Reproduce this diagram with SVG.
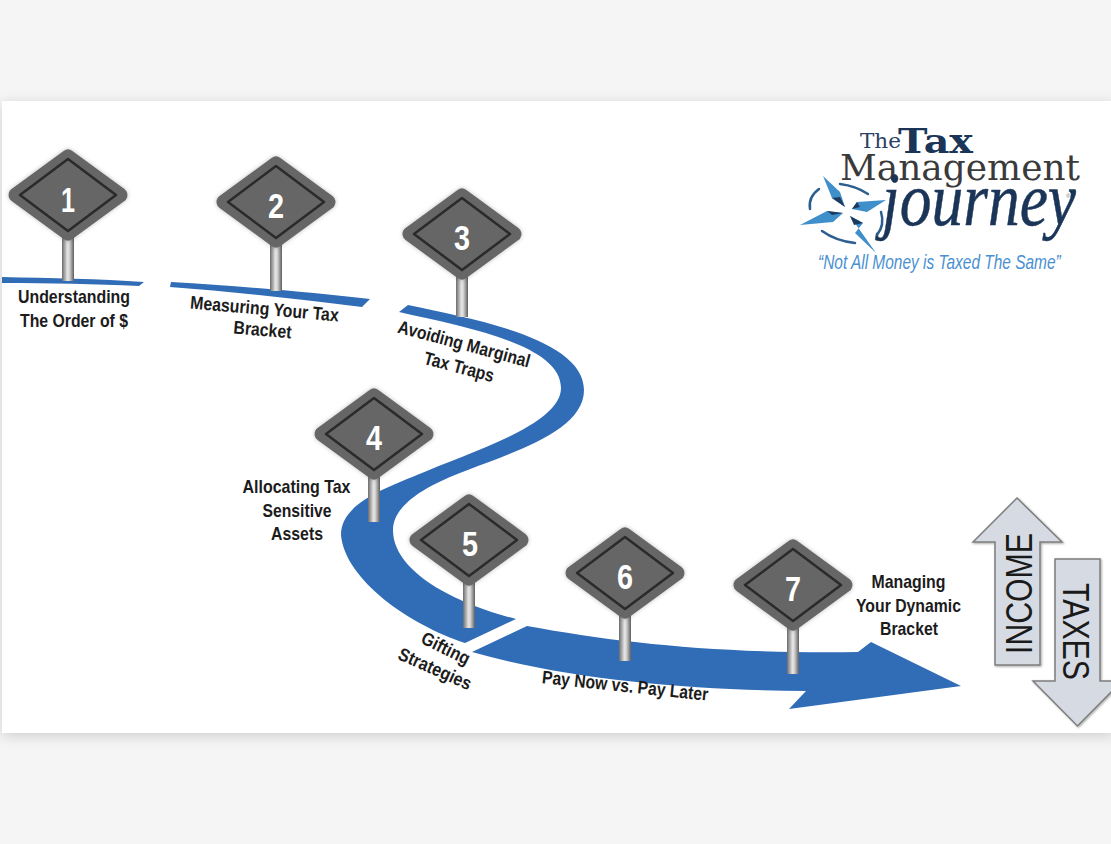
<svg xmlns="http://www.w3.org/2000/svg" width="1111" height="844" viewBox="0 0 1111 844">
<style>
.lb{font-family:"Liberation Sans",Arial,sans-serif;font-weight:700;font-size:18.500px;fill:#1c1c1c;text-anchor:middle}
.num{font-family:"Liberation Sans",Arial,sans-serif;font-weight:700;font-size:35px;fill:#fff;text-anchor:middle}
.road{fill:#316cb7}
.big{font-family:"Liberation Sans",Arial,sans-serif;font-size:37px;fill:#1a1a1a;text-anchor:middle}
.arr{fill:#d5dae3;stroke:#7d7d7d;stroke-width:1.5;filter:url(#as)}
.star{fill:#3f8fcb}
.dk{fill:#1c3b5f}
.arc{fill:none;stroke:#2c5f8f;stroke-width:2.500;stroke-linecap:round}
</style>
<defs>
<filter id="ps" x="-5%" y="-5%" width="110%" height="110%"><feDropShadow dx="0" dy="3" stdDeviation="7" flood-color="#000" flood-opacity=".16"/></filter>
<filter id="ss" x="-20%" y="-20%" width="140%" height="140%"><feDropShadow dx="0" dy="0" stdDeviation="2" flood-color="#000" flood-opacity=".25"/></filter>
<filter id="as" x="-10%" y="-10%" width="120%" height="120%"><feDropShadow dx="1" dy="1" stdDeviation="1" flood-color="#000" flood-opacity=".35"/></filter>
<linearGradient id="pole" x1="0" x2="1" y1="0" y2="0">
<stop offset="0" stop-color="#6b6b6b"/><stop offset=".45" stop-color="#e4e4e4"/><stop offset=".6" stop-color="#d8d8d8"/><stop offset="1" stop-color="#5e5e5e"/>
</linearGradient>
<g id="sign">
<polygon points="0,-38 52,0 0,38 -52,0" fill="#666" stroke="#666" stroke-width="15" stroke-linejoin="round" filter="url(#ss)"/>
<polygon points="0,-36 48,0 0,36 -48,0" fill="#666" stroke="#2a2a2a" stroke-width="2.500" stroke-linejoin="round"/>
</g>
</defs>
<rect width="1111" height="844" fill="#f5f5f5"/>
<rect x="2" y="101" width="1112" height="632" fill="#fff" filter="url(#ps)"/>

<g id="connectors">
<path class="road" d="M2,277 C50,278 100,279 144,282 L139,286 C95,284 50,283 2,283 Z"/>
<path class="road" d="M171,282 C240,286 310,292 370,299 L362,307 C300,299 235,292 170,287 Z"/>
<path class="road" d="M408,305 C480,320 584,340 584,390 C584,440 480,460 433,485 C410,497 393,512 393,530 C393,570 450,602 516,619 L465,643 C410,625 345,580 341,535 C341,505 380,490 417,475 C470,452 561,425 561,388 C561,345 470,328 399,312 Z"/>
<path class="road" d="M472,652 L527,626 C620,643 720,654 858,652 L871,642 L961,686 L789,709 L806,691 C690,690 570,680 472,652 Z"/>
</g>

<g id="node-1"><rect x="62" y="238" width="12" height="43" fill="url(#pole)"/><use href="#sign" x="68" y="195"/><text class="num" x="68" y="212" textLength="14" lengthAdjust="spacingAndGlyphs">1</text>
<text class="lb" x="74" y="303" textLength="112" lengthAdjust="spacingAndGlyphs">Understanding</text><text class="lb" x="74" y="327" textLength="108" lengthAdjust="spacingAndGlyphs">The Order of $</text></g>

<g id="node-2"><rect x="270" y="245" width="12" height="46" fill="url(#pole)"/><use href="#sign" x="276" y="202"/><text class="num" x="276" y="218" textLength="16" lengthAdjust="spacingAndGlyphs">2</text>
<text class="lb" transform="translate(264,315) rotate(5)" textLength="149" lengthAdjust="spacingAndGlyphs">Measuring Your Tax</text><text class="lb" transform="translate(262,336) rotate(5)" textLength="58" lengthAdjust="spacingAndGlyphs">Bracket</text></g>

<g id="node-3"><rect x="456" y="277" width="12" height="40" fill="url(#pole)"/><use href="#sign" x="462" y="234"/><text class="num" x="462" y="250" textLength="16" lengthAdjust="spacingAndGlyphs">3</text>
<text class="lb" transform="translate(462.500,350) rotate(15)" textLength="136" lengthAdjust="spacingAndGlyphs">Avoiding Marginal</text><text class="lb" transform="translate(457.500,373) rotate(15)" textLength="72" lengthAdjust="spacingAndGlyphs">Tax Traps</text></g>

<g id="node-4"><rect x="368" y="477" width="12" height="45" fill="url(#pole)"/><use href="#sign" x="374" y="434"/><text class="num" x="374" y="450" textLength="16" lengthAdjust="spacingAndGlyphs">4</text>
<text class="lb" x="296.500" y="493" textLength="108" lengthAdjust="spacingAndGlyphs">Allocating Tax</text><text class="lb" x="297" y="517" textLength="69" lengthAdjust="spacingAndGlyphs">Sensitive</text><text class="lb" x="297" y="540" textLength="52" lengthAdjust="spacingAndGlyphs">Assets</text></g>

<g id="node-5"><rect x="463" y="583" width="12" height="45" fill="url(#pole)"/><use href="#sign" x="469" y="540"/><text class="num" x="470" y="556" textLength="16" lengthAdjust="spacingAndGlyphs">5</text>
<text class="lb" transform="translate(443,654) rotate(26)" textLength="52" lengthAdjust="spacingAndGlyphs">Gifting</text><text class="lb" transform="translate(432.500,674.500) rotate(24)" textLength="78" lengthAdjust="spacingAndGlyphs">Strategies</text></g>

<g id="node-6"><rect x="619" y="616" width="12" height="45" fill="url(#pole)"/><use href="#sign" x="625" y="573"/><text class="num" x="625" y="589" textLength="16" lengthAdjust="spacingAndGlyphs">6</text>
<text class="lb" transform="translate(624.500,692) rotate(6)" textLength="167" lengthAdjust="spacingAndGlyphs">Pay Now vs. Pay Later</text></g>

<g id="node-7"><rect x="787" y="628" width="12" height="46" fill="url(#pole)"/><use href="#sign" x="793" y="585"/><text class="num" x="793" y="601" textLength="16" lengthAdjust="spacingAndGlyphs">7</text>
<text class="lb" x="908.500" y="588" textLength="74" lengthAdjust="spacingAndGlyphs">Managing</text><text class="lb" x="908.500" y="612" textLength="105" lengthAdjust="spacingAndGlyphs">Your Dynamic</text><text class="lb" x="909" y="635" textLength="58" lengthAdjust="spacingAndGlyphs">Bracket</text></g>

<g id="income"><polygon class="arr" points="1017,498 1062,542 1040,542 1040,665 995,665 995,542 973,542"/>
<text class="big" transform="translate(1032,593.500) rotate(-90)" textLength="121" lengthAdjust="spacingAndGlyphs">INCOME</text></g>
<g id="taxes"><polygon class="arr" points="1055,559 1100,559 1100,681 1122,681 1077.500,726 1033,681 1055,681"/>
<text class="big" transform="translate(1063,631.500) rotate(90)" textLength="97" lengthAdjust="spacingAndGlyphs">TAXES</text></g>

<g id="logo">
<text x="860" y="148" font-family="'DejaVu Serif',serif" font-size="21" fill="#2a4263" textLength="41" lengthAdjust="spacingAndGlyphs">The</text>
<text x="898" y="153" font-family="'DejaVu Serif',serif" font-weight="700" font-size="34" fill="#1a3557" textLength="75" lengthAdjust="spacingAndGlyphs">Tax</text>
<text x="840" y="180" font-family="'DejaVu Serif',serif" font-size="35" fill="#3a3a3a" textLength="240" lengthAdjust="spacingAndGlyphs">Management</text>
<text transform="translate(882,225) scale(.836,1)" font-family="'Liberation Serif',serif" font-style="italic" font-size="76" fill="#1a3557" stroke="#1a3557" stroke-width=".5">journey</text>
<text x="1066" y="198" font-family="'Liberation Sans',sans-serif" font-size="6" fill="#777">®</text>
<text transform="translate(818,269) scale(.773,1)" font-family="'Liberation Sans',sans-serif" font-style="italic" font-size="20" fill="#4a90d0">“Not All Money is Taxed The Same”</text>
<polygon class="star" points="823,176 840,192 845,207 832,198"/>
<polygon class="dk" points="832,198 840,197 845,207"/>
<polygon class="star" points="886,200 857,202 852,209 867,212"/>
<polygon class="dk" points="857,202 852,209 860,207"/>
<polygon class="star" points="800,225 827,211 843,213 833,222"/>
<polygon class="dk" points="827,211 843,213 832,215"/>
<polygon class="star" points="876,253 850,216 863,223 855,233"/>
<polygon class="dk" points="850,216 863,223 854,225"/>
<path class="arc" d="M840,184 Q856,186 868,194"/>
<path class="arc" d="M819,189 Q808,197 810,209"/>
<path class="arc" d="M881,212 Q885,225 877,235"/>
<path class="arc" d="M822,231 Q836,241 855,243"/>
</g>
</svg>
